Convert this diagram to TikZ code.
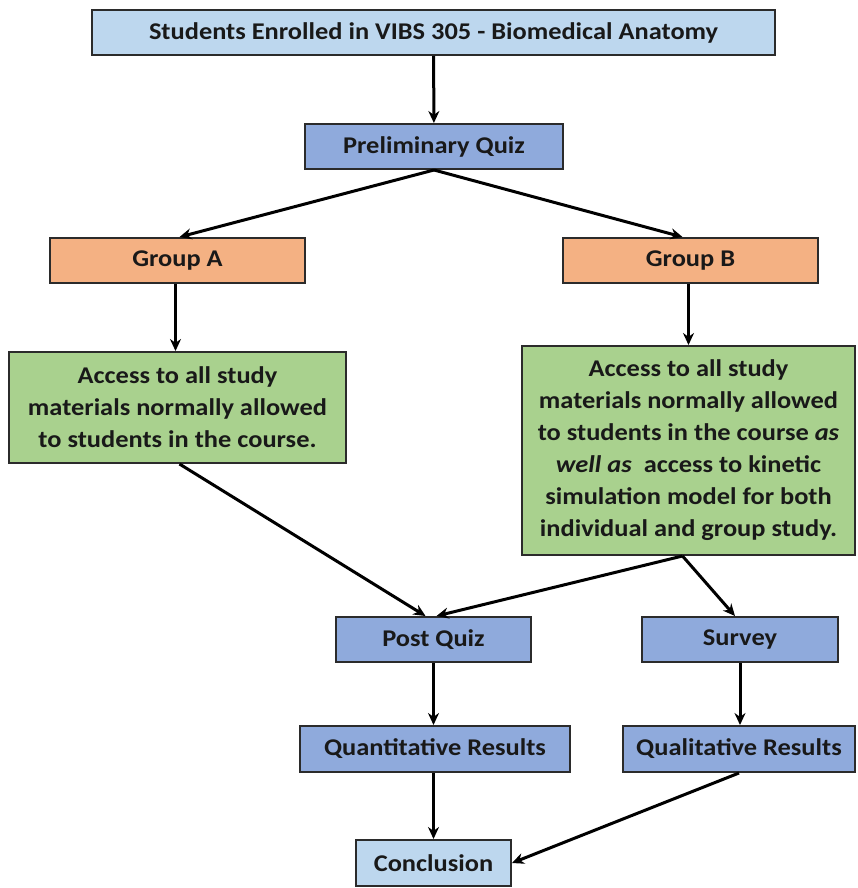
\documentclass[tikz,border=0pt]{standalone}
\usepackage{fontspec}
\setmainfont{Carlito}[FakeStretch=1.1]
\usepackage{tikz}
\usetikzlibrary{arrows,arrows.meta,positioning}
\definecolor{lightblue}{HTML}{BDD7EE}
\definecolor{midblue}{HTML}{8FAADC}
\definecolor{grouporange}{HTML}{F4B183}
\definecolor{accessgreen}{HTML}{A9D18E}
\definecolor{edgegray}{HTML}{2B2B2B}
\tikzset{
  box/.style={draw=edgegray,line width=2pt,inner sep=0pt,align=center,
    font=\fontsize{24}{32}\selectfont\bfseries,text=black!90},
  flow/.style={->,>={Stealth[length=12pt,width=11pt]},line width=3pt,black}
}

\begin{document}
\begin{tikzpicture}[x=1pt,y=-1pt]
  \useasboundingbox (0,0) rectangle (857,888);
  \node[box,fill=lightblue,minimum width=683,minimum height=45] (start) at (433.5,32.5) {Students Enrolled in VIBS 305 - Biomedical Anatomy};
  \node[box,fill=midblue,minimum width=258,minimum height=45] (pq) at (434,146.5) {Preliminary Quiz};
  \node[box,fill=grouporange,minimum width=255,minimum height=45] (ga) at (177.5,260.5) {Group A};
  \node[box,fill=grouporange,minimum width=255,minimum height=45] (gb) at (690.5,260.5) {Group B};
  \node[box,fill=accessgreen,minimum width=337,minimum height=111] (ma) at (177.5,407.5) {Access to all study\\materials normally allowed\\to students in the course.};
  \node[box,fill=accessgreen,minimum width=333,minimum height=209] (mb) at (688.5,450.5) {Access to all study\\materials normally allowed\\to students in the course \textit{as}\\\textit{well as}\ \ access to kinetic\\simulation model for both\\individual and group study.};
  \node[box,fill=midblue,minimum width=195,minimum height=45] (post) at (433.5,639.5) {Post Quiz};
  \node[box,fill=midblue,minimum width=196,minimum height=45] (surv) at (740,639.5) {Survey};
  \node[box,fill=midblue,minimum width=270,minimum height=46] (quant) at (435,749) {Quantitative Results};
  \node[box,fill=midblue,minimum width=232,minimum height=46] (qual) at (739,749) {Qualitative Results};
  \node[box,fill=lightblue,minimum width=155,minimum height=46] (concl) at (433.5,863) {Conclusion};
  \draw[flow] (start) -- (pq);
  \draw[flow] (pq.south) -- ([xshift=2]ga.north);
  \draw[flow] (pq.south) -- ([xshift=-8]gb.north);
  \draw[flow] ([xshift=-2]ga.south) -- ([xshift=-2]ma.north);
  \draw[flow] ([xshift=-2]gb.south) -- ([xshift=-2]gb.south |- mb.north);
  \draw[flow] ([xshift=2]ma.south) -- ([xshift=-8]post.north);
  \draw[flow] ([xshift=-6]mb.south) -- ([xshift=3]post.north);
  \draw[flow] ([xshift=-6]mb.south) -- ([xshift=-5]surv.north);
  \draw[flow] (post) -- (quant.north -| post);
  \draw[flow] (surv) -- (qual.north -| surv);
  \draw[flow] (quant.south -| concl) -- (concl);
  \draw[flow] (qual.south) -- (concl.east);
\end{tikzpicture}
\end{document}
